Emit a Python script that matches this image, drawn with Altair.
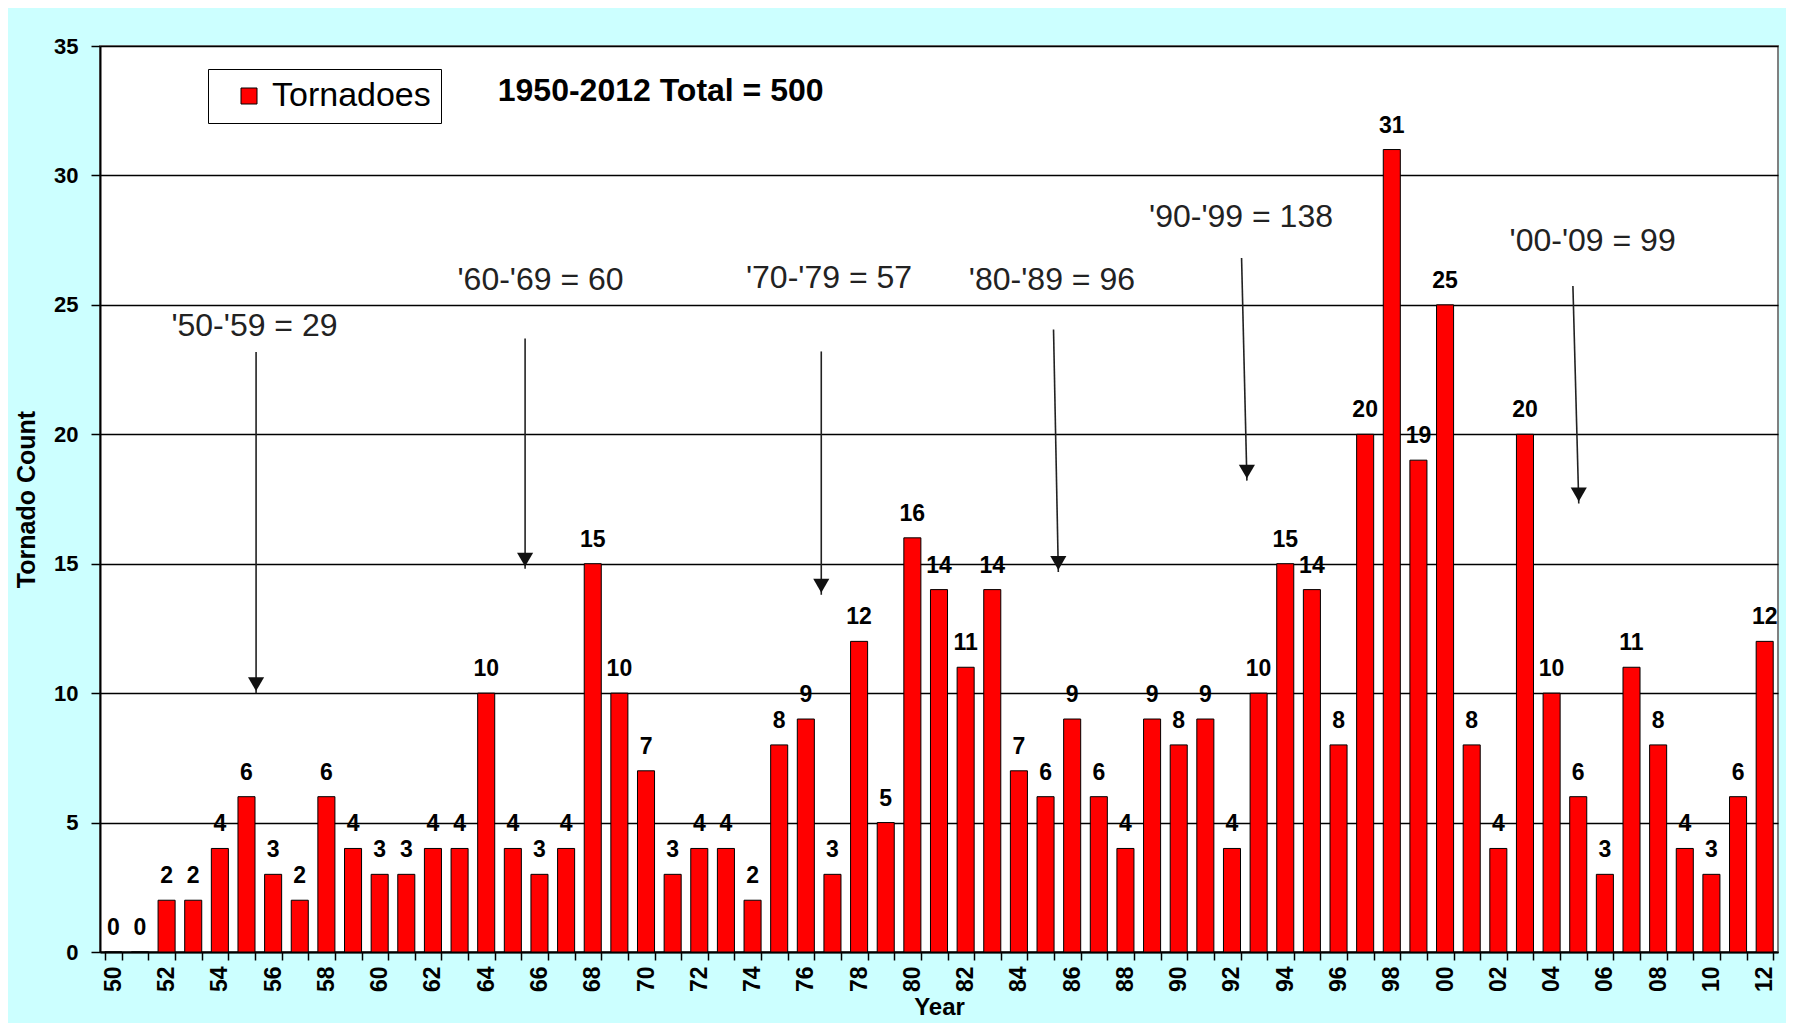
import altair as alt
import pandas as pd

# ---- data ----
years = list(range(1950, 2013))
year_labels = [f"{y % 100:02d}" for y in years]
counts = [0, 0, 2, 2, 4, 6, 3, 2, 6, 4,
          3, 3, 4, 4, 10, 4, 3, 4, 15, 10,
          7, 3, 4, 4, 2, 8, 9, 3, 12, 5,
          16, 14, 11, 14, 7, 6, 9, 6, 4, 9,
          8, 9, 4, 10, 15, 14, 8, 20, 31, 19,
          25, 8, 4, 20, 10, 6, 3, 11, 8, 4,
          3, 6, 12]
series_name = "Tornadoes"

# decade annotations (text position and arrow in data units)
ann_text = ["'50-'59 = 29", "'60-'69 = 60", "'70-'79 = 57",
            "'80-'89 = 96", "'90-'99 = 138", "'00-'09 = 99"]
ann_x = [1955.30, 1966.04, 1976.87, 1985.24, 1992.34, 2005.54]
ann_y = [24.18, 25.95, 26.04, 25.96, 28.39, 27.45]
arrow_x1 = [1955.36, 1965.46, 1976.58, 1985.30, 1992.36, 2004.80]
arrow_x2 = [1955.36, 1965.46, 1976.58, 1985.48, 1992.56, 2005.02]
arrow_y1 = [23.18, 23.70, 23.20, 24.05, 26.81, 25.73]
arrow_y2 = [10.0, 14.81, 13.8, 14.68, 18.21, 17.33]

total_text = ["1950-2012 Total = 500"]
total_x = [1970.55]
total_y = [33.27]

FONT = "Arial, Liberation Sans, sans-serif"

df = pd.DataFrame({"yr": year_labels, "count": counts, "series": series_name})
ann = pd.DataFrame({"text": ann_text, "x": ann_x, "y": ann_y})
arrows = pd.DataFrame({"x1": arrow_x1, "x2": arrow_x2, "y1": arrow_y1, "y2": arrow_y2})
tot = pd.DataFrame({"text": total_text, "x": total_x, "y": total_y})

yscale = alt.Scale(domain=[0, 35], nice=False, zero=True)
xband = alt.X(
    "yr:N", sort=year_labels,
    scale=alt.Scale(paddingInner=0.36, paddingOuter=0.18),
    axis=alt.Axis(
        title="Year", titleFont=FONT, titleFontSize=24, titleFontWeight="bold",
        titleColor="black", titlePadding=4,
        labelAngle=-90, labelFont=FONT, labelFontSize=23, labelFontWeight="bold",
        labelColor="black", labelPadding=6,
        labelExpr="parseInt(datum.value, 10) % 2 == 0 ? datum.value : ''",
        tickBand="extent", tickSize=8, tickColor="black", tickWidth=1.5,
        domainColor="black", domainWidth=2, grid=False, labelOverlap=False,
    ),
)
yax = alt.Y(
    "count:Q", scale=yscale,
    axis=alt.Axis(
        title="Tornado Count", titleFont=FONT, titleFontSize=25, titleFontWeight="bold",
        titleColor="black", titlePadding=14,
        values=[0, 5, 10, 15, 20, 25, 30, 35],
        labelFont=FONT, labelFontSize=22, labelFontWeight="bold", labelColor="black",
        labelPadding=13, tickSize=9, tickColor="black", tickWidth=1.5,
        domainColor="black", domainWidth=2,
        grid=True, gridColor="black", gridWidth=1.5,
    ),
)

bars = alt.Chart(df).mark_bar(stroke="black", strokeWidth=1).encode(
    x=xband,
    y=yax,
    color=alt.Color(
        "series:N",
        scale=alt.Scale(range=["#FF0000"]),
        legend=alt.Legend(
            title=None, orient="none", legendX=108, legendY=23,
            symbolType="square", symbolSize=256, symbolStrokeColor="black",
            symbolStrokeWidth=1, symbolOffset=14,
            labelFont=FONT, labelFontSize=34, labelColor="black", labelOffset=6,
            labelExpr="datum.label + '\u00a0\u00a0'",
            strokeColor="black", fillColor="white", padding=10,
        ),
    ),
)

values = alt.Chart(df).mark_text(
    font=FONT, fontSize=23, fontWeight="bold", color="black",
    baseline="alphabetic", dy=-17,
).encode(x=alt.X("yr:N", sort=year_labels), y=alt.Y("count:Q", scale=yscale), text="count:Q")

qx = alt.Scale(domain=[1949.5, 2012.5], nice=False, zero=False)

ann_layer = alt.Chart(ann).mark_text(
    font=FONT, fontSize=32, color="#222222", align="center", baseline="middle",
).encode(x=alt.X("x:Q", scale=qx, axis=None), y=alt.Y("y:Q", scale=yscale), text="text:N")

arrow_lines = alt.Chart(arrows).mark_rule(color="#222222", strokeWidth=1.6).encode(
    x=alt.X("x1:Q", scale=qx, axis=None), x2="x2:Q",
    y=alt.Y("y1:Q", scale=yscale), y2="y2:Q",
)
arrow_heads = alt.Chart(arrows).mark_point(
    shape="triangle-down", filled=True, color="#111111", size=260, opacity=1, yOffset=-9,
).encode(x=alt.X("x2:Q", scale=qx, axis=None), y=alt.Y("y2:Q", scale=yscale))

total_layer = alt.Chart(tot).mark_text(
    font=FONT, fontSize=32, fontWeight="bold", color="black", align="center", baseline="middle",
).encode(x=alt.X("x:Q", scale=qx, axis=None), y=alt.Y("y:Q", scale=yscale), text="text:N")

band_part = alt.layer(bars, values)
annot_part = alt.layer(ann_layer, arrow_lines, arrow_heads, total_layer)

chart = alt.layer(band_part, annot_part).resolve_scale(x="independent").properties(
    width=1678, height=906,
    padding={"left": 92, "top": 38, "right": 8, "bottom": 71},
    autosize=alt.AutoSizeParams(type="none"),
    background="#CCFFFF",
).configure_view(stroke="#808080", strokeWidth=2, fill="white")

chart.save("out.html", embed_options={"renderer": "svg", "actions": False})
